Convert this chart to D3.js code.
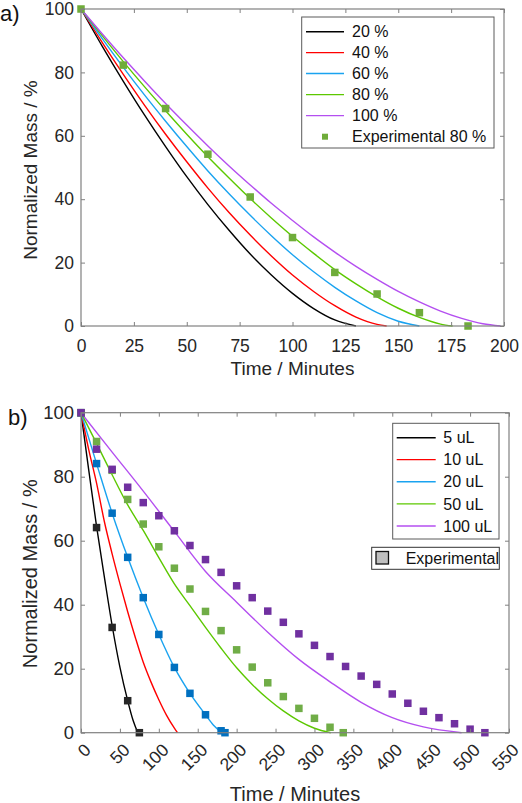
<!DOCTYPE html>
<html><head><meta charset="utf-8">
<script src="https://cdn.jsdelivr.net/npm/d3@7"></script>
<style>body{margin:0;background:#fff}svg{display:block;font-family:"Liberation Sans",Arial,sans-serif}</style>
</head><body><svg id="c" width="522" height="803"></svg>
<script>
// ---------- Panel a) data ----------
const topSeries = ["20 %", "40 %", "60 %", "80 %", "100 %"];
const topT20 = [0,10,20,30,40,50,60,70,80,90,100,110,120,130];
const topM20 = [100,88.3,77.2,66.6,56.6,47.1,38.3,30.2,22.7,16.1,10.3,5.5,1.9,0];
const topT40 = [0,10,20,30,40,50,60,70,80,90,100,110,120,130,140,144.5];
const topM40 = [100,89.5,79.4,69.7,60.5,51.8,43.5,35.8,28.7,22.1,16.1,10.9,6.4,2.8,0.5,0];
const topT60 = [0,10,20,30,40,50,60,70,80,90,100,110,120,130,140,150,160];
const topM60 = [100,90.7,81.6,72.9,64.6,56.6,48.9,41.7,34.9,28.5,22.5,17.1,12.2,7.9,4.2,1.5,0];
const topT80 = [0,10,20,30,40,50,60,70,80,90,100,110,120,130,140,150,160,170,175.7];
const topM80 = [100,91.6,83.4,75.5,67.9,60.5,53.4,46.7,40.2,34.1,28.3,22.9,17.8,13.3,9.2,5.6,2.7,0.6,0];
const topT100 = [0,10,20,30,40,50,60,70,80,90,100,110,120,130,140,150,160,170,180,190,198.4];
const topM100 = [100,92.2,84.6,77.3,70.2,63.4,56.8,50.5,44.5,38.7,33.3,28.1,23.3,18.8,14.7,10.9,7.6,4.7,2.4,0.7,0];
const topExpLabel = "Experimental 80 %";
const topExpT = [0,20,40,60,80,100,120,140,160,183];
const topExpM = [100,82.3,68.6,54.2,40.7,27.9,16.9,10.1,4.2,0];
const topXTicks = [0,25,50,75,100,125,150,175,200];
const topYTicks = [0,20,40,60,80,100];

// ---------- Panel b) data ----------
const botSeries = ["5 uL", "10 uL", "20 uL", "50 uL", "100 uL"];
const botT5 = [0,10,20,30,40,50,60,67,73];
const botM5 = [100,82,64.5,48.7,33.5,20.5,10,3.8,0];
const botT10 = [0,10,20,30,40,50,60,70,80,90,100,110,120,124];
const botM10 = [100,88.4,78,66,55.9,46.6,37.8,29.6,22,15.8,10.3,5.4,1.4,0];
const botT20 = [0,20,40,60,80,100,120,140,160,170,181];
const botM20 = [100,84.1,68.6,54.8,42.2,30.7,20.4,12.3,5.6,2.4,0];
const botT50 = [0,20,40,60,80,100,120,140,160,180,200,220,240,260,280,300,321];
const botM50 = [100,90.4,80.6,71.2,63.2,54.7,46.5,39.7,32.9,26.4,20.3,15.1,10.6,6.8,3.7,1.4,0];
const botT100 = [0,40,80,120,160,200,240,280,320,360,400,440,489];
const botM100 = [100,87.7,75.5,62.9,50.4,40.8,31.4,22.9,15.9,9.5,4.7,1.8,0];
const botExpLabel = "Experimental";
const expT5 = [0,20,40,60,75];
const expM5 = [100,64.1,32.9,10,0];
const expT20 = [0,20,40,60,80,100,120,140,160,180,185];
const expM20 = [100,84.1,68.6,54.8,42.2,30.7,20.4,12.3,5.6,0.6,0];
const expT50 = [0,20,40,60,80,100,120,140,160,180,200,220,240,260,280,300,320,337];
const expM50 = [100,91,82,72.9,65.2,58.1,51.4,44.9,37.9,31.9,25.9,20.5,15.6,11.3,7.6,4.5,1.7,0];
const expT100 = [0,20,40,60,80,100,120,140,160,180,200,220,240,260,280,300,320,340,360,380,400,420,440,460,480,500,519];
const expM100 = [100,88.6,82.3,76.7,71.9,67.8,63.1,58.5,54.1,50.1,45.9,42.2,38,34.5,30.9,27.3,23.8,20.7,17.7,15.1,12.1,9.2,6.7,4.7,2.8,1.1,0];
const botXTicks = [0,50,100,150,200,250,300,350,400,450,500,550];
const botYTicks = [0,20,40,60,80,100];

// ---------- styles ----------
const lineColors = ["#000000", "#ff0000", "#1aa3f0", "#5cc800", "#b44ff0"];
const expColorTop = "#6fac3a";
const expColorsBot = {k: "#262626", b: "#0070c0", g: "#70ad47", p: "#7030a0"};
const axisColor = "#808080";
const textColor = "#262626";

const zip = (T, M) => T.map((t, i) => ({t, m: M[i]}));
const svg = d3.select("#c");

function panel(cfg) {
  const x = d3.scaleLinear().domain(cfg.xDomain).range([cfg.left, cfg.right]);
  const y = d3.scaleLinear().domain([0, 100]).range([cfg.bottom, cfg.top]);
  const g = svg.append("g");
  g.append("rect").attr("x", cfg.left).attr("y", cfg.top)
    .attr("width", cfg.right - cfg.left).attr("height", cfg.bottom - cfg.top)
    .attr("fill", "#fff");

  const line = d3.line().x(d => x(d.t)).y(d => y(d.m)).curve(d3.curveMonotoneX);
  cfg.lines.forEach((s, i) => {
    g.append("path").datum(s).attr("d", line).attr("fill", "none")
      .attr("stroke", lineColors[i]).attr("stroke-width", 1.4);
  });
  cfg.points.forEach(p => {
    g.append("g").selectAll("rect").data(p.data).join("rect")
      .attr("x", d => x(d.t) - p.size / 2).attr("y", d => y(d.m) - p.size / 2)
      .attr("width", p.size).attr("height", p.size).attr("fill", p.color);
  });

  // axes
  const ax = g.append("g").attr("transform", `translate(0,${cfg.bottom})`)
    .call(d3.axisBottom(x).tickValues(cfg.xTicks).tickSizeInner(-4).tickSizeOuter(0).tickPadding(12));
  const ay = g.append("g").attr("transform", `translate(${cfg.left},0)`)
    .call(d3.axisLeft(y).tickValues(cfg.yTicks).tickSizeInner(-4).tickSizeOuter(0).tickPadding(7));
  const at = g.append("g").attr("transform", `translate(0,${cfg.top})`)
    .call(d3.axisTop(x).tickValues(cfg.xTicks).tickSizeInner(-4).tickSizeOuter(0).tickFormat(""));
  const ar = g.append("g").attr("transform", `translate(${cfg.right},0)`)
    .call(d3.axisRight(y).tickValues(cfg.yTicks).tickSizeInner(-4).tickSizeOuter(0).tickFormat(""));
  [ax, ay, at, ar].forEach(a => {
    a.select(".domain").remove();
    a.selectAll("line").attr("stroke", axisColor);
    a.selectAll("text").attr("fill", textColor).style("font-size", cfg.tickFont + "px")
      .style("font-family", "'Liberation Sans', Arial, sans-serif");
  });
  if (cfg.rotate) {
    ax.selectAll("text").attr("x", null).attr("y", null).attr("dy", null)
      .style("font-size", "17.5px")
      .attr("text-anchor", "end").attr("transform", "translate(10.5,18.5) rotate(-45)");
  } else {
    ax.selectAll("text").attr("dy", null).attr("y", 25.7);
  }
  g.append("rect").attr("x", cfg.left).attr("y", cfg.top)
    .attr("width", cfg.right - cfg.left).attr("height", cfg.bottom - cfg.top)
    .attr("fill", "none").attr("stroke", axisColor).attr("stroke-width", 1.2);

  // labels
  g.append("text").attr("x", (cfg.left + cfg.right) / 2).attr("y", cfg.xLabelY)
    .attr("text-anchor", "middle").attr("fill", textColor).style("font-size", cfg.labelFont + "px")
    .text("Time / Minutes");
  g.append("text").attr("transform", `translate(36.7,${cfg.yLabelC}) rotate(-90)`)
    .attr("text-anchor", "middle").attr("fill", textColor).style("font-size", cfg.labelFont + "px")
    .text("Normalized Mass / %");
  g.append("text").attr("x", cfg.tagX).attr("y", cfg.tagY).attr("fill", "#111")
    .style("font-size", "22px").text(cfg.tag);
  return g;
}

// Panel a
const ga = panel({
  xDomain: [0, 200], left: 81, right: 504, top: 9, bottom: 326,
  xTicks: topXTicks, yTicks: topYTicks, tickFont: 17.5, labelFont: 19,
  xLabelY: 375, yLabelC: 170, tag: "a)", tagX: 0, tagY: 21,
  lines: [zip(topT20, topM20), zip(topT40, topM40), zip(topT60, topM60), zip(topT80, topM80), zip(topT100, topM100)],
  points: [{data: zip(topExpT, topExpM), color: expColorTop, size: 7.5}]
});
// legend a
{
  const lg = svg.append("g");
  lg.append("rect").attr("x", 301.7).attr("y", 17).attr("width", 192.3).attr("height", 131)
    .attr("fill", "#fff").attr("stroke", "#5a5a5a").attr("stroke-width", 1);
  const rows = [31.7, 52.6, 73.5, 94.6, 115.6, 136.7];
  topSeries.forEach((s, i) => {
    lg.append("line").attr("x1", 306).attr("x2", 344).attr("y1", rows[i]).attr("y2", rows[i])
      .attr("stroke", lineColors[i]).attr("stroke-width", 1.4);
    lg.append("text").attr("x", 352).attr("y", rows[i] + 5.6).attr("fill", "#111")
      .style("font-size", "16px").text(s);
  });
  lg.append("rect").attr("x", 322).attr("y", rows[5] - 3).attr("width", 6).attr("height", 6).attr("fill", expColorTop);
  lg.append("text").attr("x", 352).attr("y", rows[5] + 5.6).attr("fill", "#111")
    .style("font-size", "16px").text(topExpLabel);
}

// Panel b
const gb = panel({
  xDomain: [0, 550], left: 81, right: 509, top: 412.7, bottom: 732.7,
  xTicks: botXTicks, yTicks: botYTicks, tickFont: 18.5, labelFont: 20, rotate: true,
  xLabelY: 800.5, yLabelC: 573.8, tag: "b)", tagX: 8, tagY: 425,
  lines: [zip(botT5, botM5), zip(botT10, botM10), zip(botT20, botM20), zip(botT50, botM50), zip(botT100, botM100)],
  points: [
    {data: zip(expT5, expM5), color: expColorsBot.k, size: 7.5},
    {data: zip(expT20, expM20), color: expColorsBot.b, size: 7.5},
    {data: zip(expT50, expM50), color: expColorsBot.g, size: 7.5},
    {data: zip(expT100, expM100), color: expColorsBot.p, size: 7.5}
  ]
});
// legend b
{
  const lg = svg.append("g");
  lg.append("rect").attr("x", 392.7).attr("y", 423.3).attr("width", 106.3).attr("height", 115.7)
    .attr("fill", "#fff").attr("stroke", "#5a5a5a").attr("stroke-width", 1);
  const rows = [437.7, 459.6, 481.7, 503.9, 526];
  botSeries.forEach((s, i) => {
    lg.append("line").attr("x1", 396.7).attr("x2", 435.7).attr("y1", rows[i]).attr("y2", rows[i])
      .attr("stroke", lineColors[i]).attr("stroke-width", 1.4);
    lg.append("text").attr("x", 443.3).attr("y", rows[i] + 5.6).attr("fill", "#111")
      .style("font-size", "16px").text(s);
  });
  lg.append("rect").attr("x", 371.7).attr("y", 547.3).attr("width", 127.6).attr("height", 22)
    .attr("fill", "#fff").attr("stroke", "#333").attr("stroke-width", 1);
  lg.append("rect").attr("x", 376).attr("y", 551.5).attr("width", 12.5).attr("height", 12.5)
    .attr("fill", "#bfbfbf").attr("stroke", "#111").attr("stroke-width", 1.3);
  lg.append("text").attr("x", 405.7).attr("y", 564).attr("fill", "#111")
    .style("font-size", "16px").text(botExpLabel);
}
</script></body></html>
